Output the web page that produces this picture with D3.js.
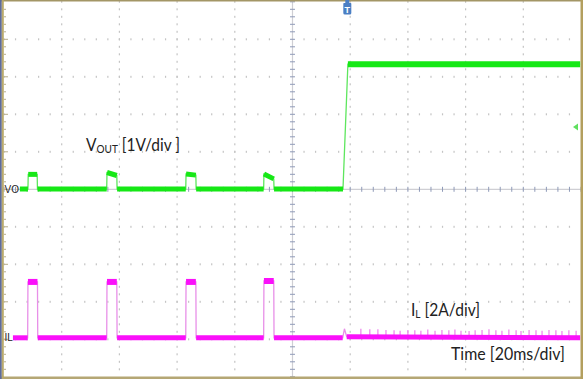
<!DOCTYPE html>
<html>
<head>
<meta charset="utf-8">
<script src="https://cdn.jsdelivr.net/npm/d3@7"></script>
<style>
  body { margin: 0; background: #fff; }
  svg { display: block; }
</style>
</head>
<body>
<div id="scope"></div>
<script>
// scope screen 583 x 379, 10 x 10 divisions
var svgWidth = 583;
var svgHeight = 379;

// Vout trace (time in ms, volts) -- 1V/div
var voutTime = [5.5, 8.3, 8.4, 11.5, 11.6, 35.6, 35.7, 39.1, 39.2, 63.0, 63.1, 66.5, 66.6,
                90.0, 90.1, 93.5, 93.6, 117.5, 119.2, 199.7];
var voutVolts = [0, 0, 0.39, 0.39, 0, 0, 0.44, 0.36, 0, 0, 0.40, 0.37, 0,
                 0, 0.40, 0.27, 0, 0, 3.33, 3.33];

// IL trace (time in ms, amps) -- 2A/div
var ilTime = [3.1, 8.2, 8.3, 11.6, 11.7, 35.6, 35.7, 39.1, 39.2, 63.0, 63.1, 66.5, 66.6,
              90.0, 90.1, 93.5, 93.6, 117.4, 118.0, 118.8, 199.7];
var ilAmps = [0, 0, 2.98, 2.98, 0, 0, 2.98, 2.98, 0, 0, 2.98, 2.98, 0,
              0, 3.03, 3.03, 0, 0, 0.48, 0.05, 0];

// small switching spikes on IL after start-up
var spikeTime = [123.7, 126.8, 129.6, 132.4, 135.2, 137.3, 140.0, 142.4, 144.5, 146.9, 149.4,
                 151.8, 154.2, 156.3, 158.4, 161.2, 163.3, 165.7, 168.1, 170.5, 172.6, 175.0,
                 177.5, 179.2, 182.0, 184.4, 186.5, 188.9, 191.3, 193.4, 195.8, 198.3];
var spikeAmps = [0.48, 0.46, 0.46, 0.42, 0.4, 0.38, 0.42, 0.4, 0.38, 0.44, 0.38,
                 0.42, 0.4, 0.44, 0.38, 0.36, 0.4, 0.42, 0.46, 0.4, 0.38, 0.44,
                 0.4, 0.36, 0.42, 0.4, 0.38, 0.42, 0.4, 0.36, 0.4, 0.38];

var svg = d3.select("#scope")
    .append("svg")
    .attr("width", svgWidth)
    .attr("height", svgHeight);

// division scales
var gx = d3.scaleLinear().domain([0, 10]).range([4, 581]);
var gy = d3.scaleLinear().domain([0, 10]).range([1.8, 376.8]);

// data scales
var xTime = d3.scaleLinear().domain([0, 200]).range([4, 581]);
var yVolt = d3.scaleLinear().domain([0, 1]).range([189, 151.5]);
var yAmp = d3.scaleLinear().domain([0, 2]).range([337.8, 300.3]);

var grid = svg.append("g");

// dotted grid lines
var majors = d3.range(1, 10).filter(d => d !== 5);
majors.forEach(function(i) {
    var xs = gx(i);
    grid.selectAll(null)
        .data(d3.range(0, 50))
        .enter()
        .append("rect")
        .attr("x", xs - 0.6)
        .attr("y", d => gy(d / 5) - 1)
        .attr("width", 1.2)
        .attr("height", 2)
        .attr("fill", "#c4c4c4");
    var ys = gy(i);
    grid.selectAll(null)
        .data(d3.range(0, 50))
        .enter()
        .append("rect")
        .attr("x", d => gx(d / 5) - 0.6)
        .attr("y", ys - 1)
        .attr("width", 1.2)
        .attr("height", 2)
        .attr("fill", "#c4c4c4");
});

// center axes with ticks
grid.append("line")
    .attr("x1", gx(5)).attr("x2", gx(5))
    .attr("y1", gy(0)).attr("y2", gy(10))
    .attr("stroke", "#cfcfd4").attr("stroke-width", 1.2);
grid.append("line")
    .attr("x1", gx(0)).attr("x2", gx(10))
    .attr("y1", gy(5)).attr("y2", gy(5))
    .attr("stroke", "#cfcfd4").attr("stroke-width", 1.2);
grid.selectAll(null)
    .data(d3.range(0, 51))
    .enter()
    .append("line")
    .attr("x1", gx(5) - 2.5).attr("x2", gx(5) + 2.5)
    .attr("y1", d => gy(d / 5)).attr("y2", d => gy(d / 5))
    .attr("stroke", "#8f9ab8").attr("stroke-width", 1);
grid.selectAll(null)
    .data(d3.range(0, 51))
    .enter()
    .append("line")
    .attr("y1", gy(5) - 2.5).attr("y2", gy(5) + 2.5)
    .attr("x1", d => gx(d / 5)).attr("x2", d => gx(d / 5))
    .attr("stroke", "#8f9ab8").attr("stroke-width", 1);

// left edge ticks
grid.selectAll(null)
    .data(d3.range(1, 50))
    .enter()
    .append("line")
    .attr("x1", 4).attr("x2", d => d % 5 === 0 ? 8 : 6)
    .attr("y1", d => gy(d / 5)).attr("y2", d => gy(d / 5))
    .attr("stroke", "#b7ad8a").attr("stroke-width", 1);

// frame
svg.append("rect").attr("x", 0).attr("y", 0).attr("width", svgWidth).attr("height", 1.5).attr("fill", "#a39666");
svg.append("rect").attr("x", 0).attr("y", 376.5).attr("width", svgWidth).attr("height", 2.5).attr("fill", "#b5a775");
svg.append("rect").attr("x", 580.5).attr("y", 0).attr("width", 2.5).attr("height", svgHeight).attr("fill", "#b39f5e");
svg.append("rect").attr("x", 0).attr("y", 0).attr("width", 1.8).attr("height", svgHeight).attr("fill", "#5f6c9c");
svg.append("rect").attr("x", 1.8).attr("y", 0).attr("width", 2).attr("height", svgHeight).attr("fill", "#b9aa6c");

// draw a trace: thin edges plus thick noisy flat parts
function drawTrace(times, vals, yScale, color, thick, edgeColor) {
    var pts = times.map((t, i) => [xTime(t), yScale(vals[i])]);
    var line = d3.line();
    svg.append("path")
        .attr("d", line(pts))
        .attr("fill", "none")
        .attr("stroke", edgeColor)
        .attr("stroke-width", 1.3);
    var segs = d3.pairs(d3.range(times.length)).filter(p => times[p[1]] - times[p[0]] > 2);
    svg.selectAll(null)
        .data(segs)
        .enter()
        .append("line")
        .attr("x1", p => xTime(times[p[0]]))
        .attr("x2", p => xTime(times[p[1]]))
        .attr("y1", p => yScale(vals[p[0]]))
        .attr("y2", p => yScale(vals[p[1]]))
        .attr("stroke", color)
        .attr("stroke-width", p => vals[p[0]] > 1 ? thick + 1 : thick);
}

drawTrace(voutTime, voutVolts, yVolt, "#16e816", 5, "#5ee65e");

// IL spikes
svg.selectAll(null)
    .data(spikeTime)
    .enter()
    .append("line")
    .attr("x1", d => xTime(d)).attr("x2", d => xTime(d))
    .attr("y1", yAmp(0))
    .attr("y2", (d, i) => yAmp(spikeAmps[i]))
    .attr("stroke", "#ee80ee")
    .attr("stroke-width", 1.2);

drawTrace(ilTime, ilAmps, yAmp, "#fa10fa", 5, "#e890e8");

// channel markers
svg.append("text").attr("x", 4.5).attr("y", yVolt(0) + 3.5)
    .attr("font-family", "Liberation Sans").attr("font-size", "10px").attr("fill", "#222").text("VO");
svg.append("text").attr("x", 4.5).attr("y", yAmp(0) + 3.5)
    .attr("font-family", "Liberation Sans").attr("font-size", "10px").attr("fill", "#222").text("IL");

// trigger marker
var trig = svg.append("g").attr("transform", `translate(${xTime(119)},0)`);
trig.append("path")
    .attr("d", "M-2,0 L2,0 L2,3 L3.5,3 Q4,3 4,4 L4,13 Q4,14.5 2.5,14.5 L-2.5,14.5 Q-4,14.5 -4,13 L-4,4 Q-4,3 -3.5,3 L-2,3 Z")
    .attr("fill", "#4b7fc4");
trig.append("text").attr("x", 0).attr("y", 12.5)
    .attr("text-anchor", "middle")
    .attr("font-family", "Liberation Sans").attr("font-size", "9px").attr("font-weight", "bold")
    .attr("fill", "#fff").text("T");

// offset arrow on right edge
svg.append("path")
    .attr("d", "M573,127 L578,123.5 L578,130.5 Z")
    .attr("fill", "#5fe05f");

// labels
var font = "Lato, 'Open Sans', sans-serif";
var vLabel = svg.append("text")
    .attr("x", 86).attr("y", 151)
    .attr("font-family", font).attr("font-size", "17px").attr("fill", "#222")
    .attr("textLength", 94).attr("lengthAdjust", "spacingAndGlyphs");
vLabel.append("tspan").text("V");
vLabel.append("tspan").attr("font-size", "11px").attr("dy", 2).text("OUT");
vLabel.append("tspan").attr("dy", -2).text(" [1V/div ]");

var iLabel = svg.append("text")
    .attr("x", 411).attr("y", 316)
    .attr("font-family", font).attr("font-size", "17px").attr("fill", "#222")
    .attr("textLength", 69).attr("lengthAdjust", "spacingAndGlyphs");
iLabel.append("tspan").text("I");
iLabel.append("tspan").attr("font-size", "11px").attr("dy", 2).text("L");
iLabel.append("tspan").attr("dy", -2).text(" [2A/div]");

svg.append("text")
    .attr("x", 451).attr("y", 360)
    .attr("font-family", font).attr("font-size", "17px").attr("fill", "#222")
    .attr("textLength", 114).attr("lengthAdjust", "spacingAndGlyphs")
    .text("Time [20ms/div]");
</script>
</body>
</html>
